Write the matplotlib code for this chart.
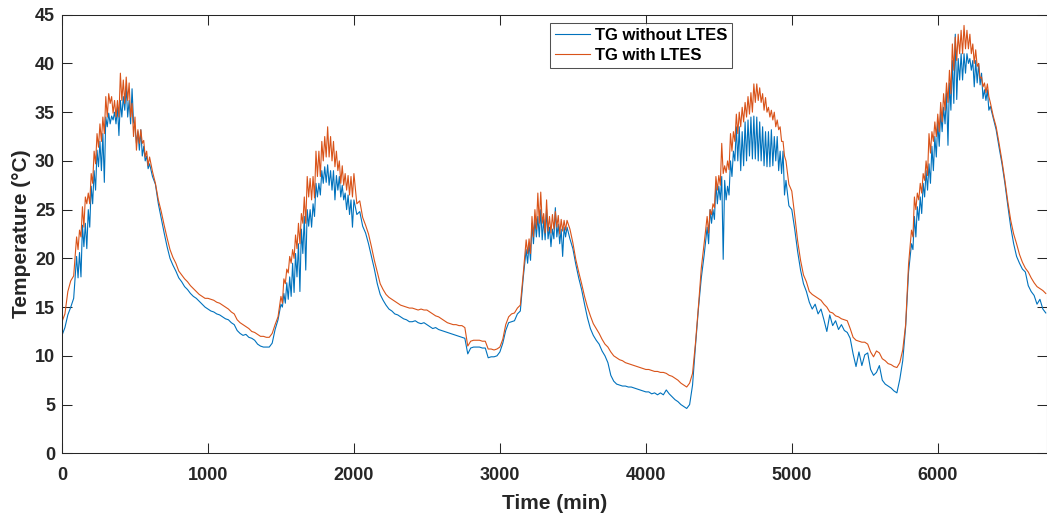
import numpy as np
import matplotlib
matplotlib.use("Agg")
import matplotlib.pyplot as plt

plt.rcParams['font.family'] = ['Liberation Sans', 'DejaVu Sans']
plt.rcParams['font.weight'] = 'bold'

# main readings every 20 min (min)
time_min = np.arange(0, 6741, 20)

# TG without LTES (degC); in the noisy spans these are the tops of the band
tg_without = [
    12.1, 12.9, 14.2, 15.0, 15.9, 20.2, 20.6, 23.4, 23.6, 25.0,
    27.4, 29.0, 31.1, 32.0, 32.8, 34.5, 34.9, 34.6, 35.0, 35.5,
    36.2, 36.6, 37.6, 36.2, 37.4, 33.5, 33.0, 33.2, 31.5, 30.5,
    29.7, 28.4, 27.6, 25.6, 24.1, 22.6, 21.2, 20.0, 19.3, 18.7,
    18.0, 17.6, 17.1, 16.8, 16.4, 16.1, 15.9, 15.6, 15.3, 15.0,
    14.8, 14.6, 14.5, 14.3, 14.2, 14.0, 13.8, 13.7, 13.4, 13.2,
    12.6, 12.3, 12.1, 12.2, 11.9, 11.8, 11.6, 11.2, 11.0, 10.9,
    10.9, 10.9, 11.3, 12.7, 13.7, 15.3, 16.4, 17.5, 18.1, 19.5,
    20.5, 21.5, 23.0, 24.3, 25.0, 25.0, 25.6, 27.7, 27.7, 29.0,
    29.4, 29.6, 29.0, 29.0, 28.5, 28.4, 27.5, 26.7, 26.5, 26.0,
    26.0, 24.5, 24.8, 23.3, 22.6, 21.5, 20.2, 18.9, 17.4, 16.3,
    15.7, 15.2, 14.8, 14.6, 14.3, 14.2, 14.0, 13.8, 13.7, 13.5,
    13.5, 13.6, 13.4, 13.3, 13.4, 13.2, 13.0, 12.8, 12.9, 12.7,
    12.6, 12.5, 12.4, 12.3, 12.2, 12.1, 12.0, 11.9, 11.8, 10.2,
    10.8, 10.9, 10.9, 10.9, 10.8, 10.8, 9.8, 9.9, 9.9, 10.0,
    10.4, 11.3, 12.6, 13.4, 13.5, 13.6, 14.3, 14.6, 18.0, 20.9,
    21.5, 23.6, 24.0, 24.3, 25.0, 24.0, 25.0, 23.2, 23.0, 25.2,
    23.5, 23.0, 23.2, 23.2, 22.0, 21.0, 19.4, 18.0, 16.8, 15.3,
    13.9, 12.8, 12.1, 11.6, 11.2, 10.5, 10.0, 9.3, 8.0, 7.4,
    7.1, 7.0, 6.9, 6.9, 6.8, 6.8, 6.7, 6.6, 6.5, 6.4,
    6.3, 6.3, 6.1, 6.2, 6.0, 6.2, 6.0, 6.5, 6.1, 5.8,
    5.5, 5.3, 5.0, 4.8, 4.6, 5.0, 7.0, 11.0, 14.8, 18.0,
    20.4, 23.2, 25.0, 25.0, 27.7, 27.4, 28.4, 28.0, 27.4, 30.0,
    31.0, 33.5, 33.5, 33.0, 34.0, 34.2, 34.5, 34.6, 34.5, 34.0,
    33.5, 33.0, 33.0, 33.2, 32.5, 32.5, 31.0, 31.0, 28.0, 25.4,
    25.0, 23.0, 20.7, 18.8, 17.4, 16.6, 15.5, 14.8, 15.3, 14.3,
    14.8, 13.7, 12.5, 14.2, 13.1, 13.6, 12.7, 13.2, 12.6, 12.4,
    11.8, 10.2, 8.9, 10.4, 9.0, 10.1, 10.3, 8.6, 8.0, 8.3,
    9.0, 7.5, 7.1, 6.9, 6.7, 6.4, 6.2, 7.6, 9.5, 13.0,
    18.6, 21.5, 24.3, 25.3, 26.3, 27.7, 29.0, 29.7, 31.5, 32.5,
    34.0, 35.0, 35.5, 37.0, 38.0, 40.3, 43.0, 40.5, 41.0, 41.0,
    41.0, 40.5, 40.3, 40.3, 40.0, 39.0, 37.3, 37.3, 35.6, 34.4,
    33.2, 31.4, 29.7, 27.7, 25.4, 23.2, 21.5, 20.2, 19.5, 18.9,
    18.6, 17.2, 16.6, 16.2, 15.3, 15.8, 14.8, 14.4,
]

# TG with LTES (degC)
tg_with = [
    13.5, 14.3, 16.6, 17.7, 18.2, 22.2, 22.9, 25.3, 26.3, 26.7,
    28.7, 31.0, 32.8, 33.8, 34.5, 36.6, 36.9, 36.6, 36.2, 36.2,
    39.0, 38.3, 38.6, 38.0, 35.9, 34.5, 33.2, 33.2, 32.1, 31.0,
    30.4, 28.9, 27.7, 26.0, 24.8, 23.4, 22.1, 20.9, 20.1, 19.5,
    18.7, 18.3, 17.9, 17.6, 17.2, 16.9, 16.6, 16.3, 16.1, 15.9,
    15.9, 15.8, 15.7, 15.5, 15.4, 15.2, 15.0, 14.8, 14.5, 14.3,
    13.7, 13.4, 13.2, 13.0, 12.8, 12.5, 12.4, 12.2, 12.0, 12.0,
    11.9, 11.9, 12.3, 13.2, 14.0, 16.1, 17.9, 18.9, 20.2, 20.9,
    22.4, 23.6, 24.6, 26.3, 28.4, 28.2, 28.4, 31.0, 31.0, 32.0,
    32.5, 33.5, 32.5, 32.0, 31.0, 30.0, 29.5, 28.7, 28.5, 28.4,
    28.7, 25.6, 25.9, 24.2, 23.4, 22.5, 21.2, 19.8, 18.6, 17.4,
    16.8, 16.3, 16.0, 15.8, 15.6, 15.4, 15.2, 15.1, 15.0, 14.9,
    14.9, 14.8, 14.7, 14.8, 14.7, 14.7, 14.5, 14.3, 14.1, 14.0,
    13.8, 13.6, 13.4, 13.3, 13.2, 13.2, 13.1, 13.1, 12.9, 11.0,
    11.5, 11.6, 11.6, 11.6, 11.5, 11.5, 10.7, 10.7, 10.6, 10.7,
    10.9, 11.7, 13.2, 14.0, 14.3, 14.4, 14.9, 15.2, 18.4, 21.9,
    22.0, 24.3, 25.0, 26.7, 26.8, 24.6, 26.0, 24.3, 24.5, 24.8,
    24.4, 24.0, 23.9, 23.9, 23.0, 21.6, 19.9, 18.6, 17.4, 16.1,
    15.0, 14.1, 13.3, 12.8, 12.3, 11.7, 11.2, 10.9, 10.4, 10.0,
    9.8, 9.6, 9.5, 9.3, 9.2, 9.1, 9.0, 8.9, 8.8, 8.7,
    8.6, 8.6, 8.5, 8.4, 8.4, 8.3, 8.3, 8.2, 8.0, 7.9,
    7.7, 7.5, 7.2, 7.0, 6.8, 7.2, 8.2, 11.3, 15.0, 19.0,
    21.6, 24.3, 25.0, 25.6, 28.4, 28.5, 31.8, 29.5, 30.0, 32.8,
    33.0, 34.8, 35.0, 35.5, 36.0, 36.6, 37.0, 37.9, 37.9, 37.5,
    36.9, 36.5, 35.5, 35.2, 35.0, 34.2, 33.5, 32.0, 30.0, 27.6,
    26.9, 24.4, 21.8, 19.8, 18.3, 17.6, 16.6, 16.3, 16.1, 15.9,
    15.7, 15.3, 15.0, 14.5, 14.4, 14.1, 14.0, 13.8, 13.7, 13.6,
    12.8, 11.9, 11.6, 11.5, 11.4, 11.4, 11.2, 10.4, 9.9, 10.5,
    10.3, 9.7, 9.5, 9.2, 9.1, 8.9, 8.8, 9.3, 10.6, 13.2,
    19.4, 22.9, 26.3, 26.7, 27.7, 28.7, 30.0, 32.8, 33.0, 34.0,
    34.8, 36.0, 36.9, 38.0, 39.3, 42.0, 42.7, 43.0, 43.4, 43.9,
    43.4, 43.0, 42.0, 41.4, 40.0, 38.6, 38.0, 37.9, 36.0, 34.6,
    33.5, 31.8, 30.0, 28.0, 25.8, 23.9, 22.5, 21.5, 20.4, 19.6,
    19.0, 18.6, 18.0, 17.5, 17.1, 16.9, 16.7, 16.4,
]

# extra readings halfway between, only in the noisy spans (bottom of the band)
mid_time = np.concatenate([
    np.arange(110, 600, 20), np.arange(1510, 2000, 20), np.arange(3190, 3460, 20),
    np.arange(4430, 4960, 20), np.arange(5830, 6360, 20),
])
mid_without = [
    18.0, 18.1, 21.2, 21.0, 23.2, 25.6, 27.0, 29.4, 29.0, 27.8, 33.5, 33.8, 34.2,
    33.8, 32.6, 34.5, 35.2, 34.5, 33.8, 34.0, 31.8, 31.1, 30.5, 30.0, 29.2,
    15.0, 15.4, 15.8, 16.1, 16.5, 18.1, 16.6, 20.5, 18.8, 23.3, 23.2, 24.3, 26.3,
    26.5, 27.7, 27.8, 27.5, 27.0, 26.0, 27.0, 26.3, 26.0, 25.0, 24.5, 23.2,
    19.5, 19.8, 21.5, 22.2, 22.2, 21.9, 21.9, 22.0, 21.2, 22.0, 22.2, 21.5, 20.2, 22.2,
    21.5, 23.6, 24.0, 25.6, 26.0, 19.9, 26.0, 26.5, 28.4, 30.0, 30.0, 29.0, 29.5, 30.0,
    30.5, 30.2, 30.2, 30.0, 30.0, 29.5, 29.4, 29.4, 29.5, 30.0, 29.0, 28.7, 26.5,
    20.9, 22.2, 23.9, 24.6, 26.3, 27.0, 27.7, 29.0, 30.4, 31.5, 33.0, 33.8, 31.6, 35.2,
    35.9, 36.3, 38.3, 38.3, 39.0, 40.0, 39.3, 37.6, 38.0, 37.8, 36.4, 36.2, 35.2,
]
mid_with = [
    20.9, 22.2, 23.2, 25.6, 25.6, 27.7, 29.7, 31.4, 32.0, 32.8, 34.5, 35.9, 34.9,
    34.5, 34.5, 36.2, 35.9, 36.2, 34.5, 32.5, 31.1, 31.8, 31.8, 30.4, 29.5,
    15.4, 17.4, 18.5, 19.5, 20.0, 21.0, 21.5, 23.6, 23.6, 26.3, 26.0, 26.2, 28.4,
    28.4, 30.0, 30.4, 30.4, 30.0, 29.4, 29.0, 27.7, 27.5, 27.0, 26.5, 26.3,
    20.5, 20.5, 22.2, 23.0, 23.6, 23.6, 22.6, 22.8, 22.6, 23.0, 23.2, 22.5, 22.8, 22.9,
    22.6, 24.5, 25.2, 27.0, 27.5, 28.7, 28.8, 29.1, 31.0, 32.0, 32.8, 33.5, 34.0, 34.5,
    34.8, 35.0, 36.0, 36.2, 36.0, 35.2, 35.0, 34.5, 34.2, 33.5, 33.2, 32.0, 30.5,
    22.2, 25.0, 26.0, 26.7, 28.0, 28.5, 30.8, 32.0, 32.5, 33.0, 34.0, 35.2, 36.0, 36.9,
    39.3, 40.3, 41.0, 41.0, 41.5, 41.5, 41.0, 40.0, 39.7, 38.5, 37.6, 37.0, 36.6,
]

x_ticks = [0, 1000, 2000, 3000, 4000, 5000, 6000]
y_ticks = [0, 5, 10, 15, 20, 25, 30, 35, 40, 45]

# merge main and extra readings in time order
t_all = np.concatenate([time_min, mid_time])
order = np.argsort(t_all, kind='stable')
t_all = t_all[order]
y_without = np.concatenate([tg_without, mid_without])[order]
y_with = np.concatenate([tg_with, mid_with])[order]

fig = plt.figure(figsize=(10.47, 5.15), dpi=100)
ax = fig.add_axes([62 / 1047, 61.7 / 515, 984.5 / 1047, 438.6 / 515])

ax.plot(t_all, y_without, color='#0072BD', lw=0.8, label='TG without LTES')
ax.plot(t_all, y_with, color='#D95319', lw=0.8, label='TG with LTES')

ax.set_xlim(0, 6745)
ax.set_ylim(0, 45)
ax.set_xticks(x_ticks)
ax.set_yticks(y_ticks)
ax.tick_params(direction='in', length=7, width=0.75, top=True, right=True,
               labelsize=13, colors='#262626')
ax.tick_params(axis='x', pad=10)
ax.tick_params(axis='y', pad=5)
for s in ax.spines.values():
    s.set_color('#262626')
    s.set_linewidth(0.75)

ax.set_xlabel('Time (min)', fontsize=15, fontweight='bold', color='#262626', labelpad=7)
ax.set_ylabel('Temperature (°C)', fontsize=15, fontweight='bold', color='#262626', labelpad=3)

leg = ax.legend(loc='upper left', bbox_to_anchor=(0.4957, 0.981), borderaxespad=0,
                fontsize=12, frameon=True, fancybox=False, edgecolor='#262626',
                handlelength=2.1, handletextpad=0.3, borderpad=0.3, labelspacing=0.3)
leg.get_frame().set_linewidth(0.75)

fig.savefig('out.png', dpi=100)
